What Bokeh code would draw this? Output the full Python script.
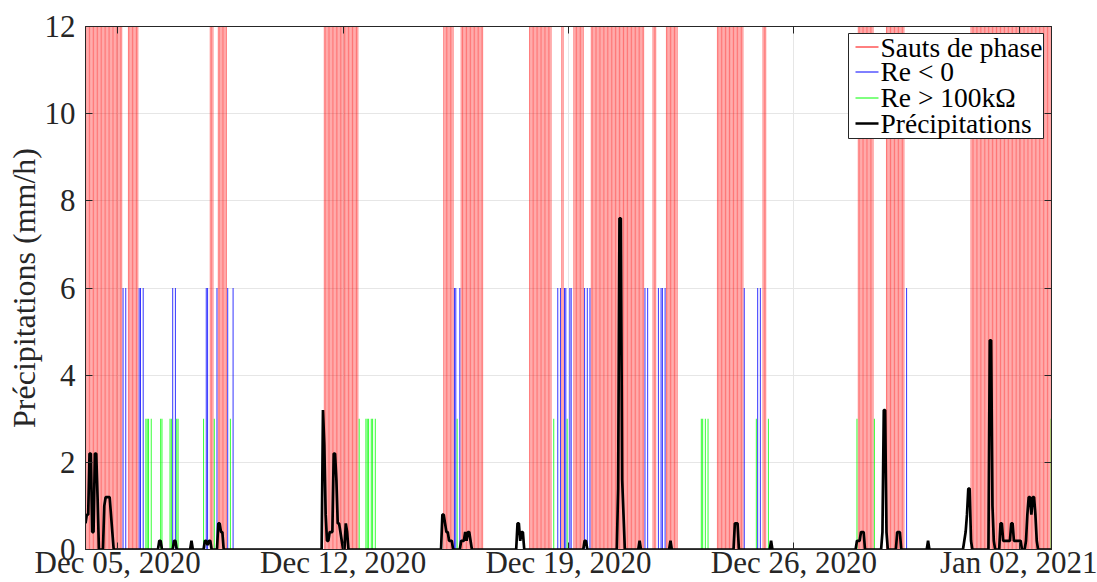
from datetime import datetime, timezone
from bokeh.plotting import figure
from bokeh.models import (Range1d, FixedTicker, DatetimeTickFormatter, LinearAxis,
                          DatetimeAxis, ColumnDataSource, BoxAnnotation, Label, Arrow)
from bokeh.embed import file_html
from bokeh.resources import INLINE

# ---------------- data (hours since 2020-12-04 00:00) ----------------
red_hours = [
    0, 1, 2, 3, 4, 5, 6, 7, 8, 9, 10, 11, 12, 13, 14, 15, 16, 17, 18, 19, 20, 21, 22, 23, 24, 25, 26, 27,
    32, 33, 34, 35, 36, 37, 38, 39,
    93, 94, 95,
    99, 100, 101, 102, 103, 104, 105,
    178, 179, 180, 181, 182, 183, 184, 185, 186, 187, 188, 189, 190, 191, 192, 193, 194, 195, 196,
    197, 198, 199, 200, 201, 202, 203,
    267, 268, 269, 270, 271, 272, 273, 274,
    280, 281, 282, 283, 284, 285, 286, 287, 288, 289, 290, 291, 292, 293, 294, 295, 296,
    331, 332, 333, 334, 335, 336, 337, 338, 339, 340, 341, 342, 343, 344, 345, 346, 347,
    355, 356,
    364, 365, 366, 367, 368, 369, 370, 371,
    377, 378, 379, 380, 381, 382, 383, 384, 385, 386, 387, 388, 389, 390, 391, 392, 393, 394, 395,
    396, 397, 398, 399, 400, 401, 402, 403, 404, 405, 406, 407, 408, 409, 410, 411, 412, 413, 414,
    415, 416,
    423, 424, 425,
    433, 434, 435, 436, 437, 438, 439, 440, 441,
    471, 472, 473, 474, 475, 476, 477, 478, 479, 480, 481, 482, 483, 484, 485, 486, 487, 488, 489, 490,
    505, 506, 507,
    576, 577, 578, 579, 580, 581, 582, 583, 584, 585, 586, 587,
    597, 598, 599, 600, 601, 602, 603, 604, 605, 606, 607, 608, 609, 610,
    660, 661, 662, 663, 664, 665, 666, 667, 668, 669, 670, 671, 672, 673, 674, 675, 676, 677, 678,
    679, 680, 681, 682, 683, 684, 685, 686, 687, 688, 689, 690, 691, 692, 693, 694, 695, 696, 697,
    698, 699, 700, 701, 702, 703, 704, 705, 706, 707, 708, 709, 710, 711, 712, 713, 714, 715, 716,
    717, 718, 719,
]
blue_hours = [28, 30, 40, 41, 43, 65, 67, 90, 91, 98, 106, 110, 275, 276, 279, 352, 354,
              357, 358, 361, 362, 372, 374, 376, 417, 419, 427, 429, 430, 432, 491, 501, 503, 612]
green_hours = [45, 46, 47, 49, 56, 57, 63, 64, 68, 69, 88, 96, 108, 204, 209, 210, 211, 213,
               214, 216, 277, 349, 359, 459, 460, 462, 464, 500, 509, 575, 588, 719.7]
red_level = 12
blue_level = 6
green_level = 3

precip_hours = [
    0, 1, 2, 3, 4, 5, 6, 7, 8, 9, 10,
    13, 14, 15, 16, 17, 18, 19, 20, 21,
    54, 55, 56, 57,
    65, 66, 67, 68,
    78, 79, 80,
    88, 89, 90, 91, 92, 93, 94,
    98, 99, 100, 101, 102, 103,
    176, 177, 178, 179, 180, 181, 182, 183, 184, 185, 186, 187, 188, 189, 190, 191, 192, 193, 194, 195, 196,
    265, 266, 267, 268, 269, 270, 271, 272, 273, 274,
    279, 280, 281, 282, 283, 284, 285, 286, 287, 288,
    321, 322, 323, 324, 325, 326, 327,
    371, 372, 373, 374,
    396, 397, 398, 399, 400, 401, 402,
    412, 413, 414,
    435, 436, 437,
    483, 484, 485, 486, 487,
    510, 511, 512,
    574, 575, 576, 577, 578, 579, 580, 581,
    593, 594, 595, 596, 597, 598,
    604, 605, 606, 607, 608,
    627, 628, 629,
    654, 655, 656, 657, 658, 659, 660, 661,
    673, 674, 675, 676, 677, 678,
    681, 682, 683, 684, 685, 686, 687, 688, 689, 690, 691, 692, 693, 694, 695, 696, 697, 698,
    700, 701, 702, 703, 704, 705, 706, 707, 708, 709, 710,
    720,
]
precip_values = [
    0.6, 0.8, 0.8, 2.2, 2.2, 0.4, 0.4, 2.2, 2.2, 1.2, 0.0,
    0.0, 1.0, 1.2, 1.2, 1.2, 1.2, 0.8, 0.4, 0.0,
    0.0, 0.2, 0.2, 0.0,
    0.0, 0.2, 0.2, 0.0,
    0.0, 0.2, 0.0,
    0.0, 0.2, 0.2, 0.1, 0.2, 0.2, 0.0,
    0.0, 0.6, 0.6, 0.4, 0.4, 0.0,
    0.0, 3.2, 2.4, 0.8, 0.2, 0.2, 0.4, 0.4, 0.4, 2.2, 2.2, 1.6, 0.6, 0.6, 0.4, 0.2, 0.0, 0.0, 0.6, 0.4, 0.0,
    0.0, 0.8, 0.8, 0.6, 0.4, 0.4, 0.2, 0.2, 0.2, 0.0,
    0.0, 0.2, 0.2, 0.2, 0.4, 0.2, 0.4, 0.4, 0.2, 0.0,
    0.0, 0.6, 0.6, 0.2, 0.4, 0.4, 0.0,
    0.0, 0.2, 0.2, 0.0,
    0.0, 1.4, 7.6, 7.6, 1.6, 0.8, 0.0,
    0.0, 0.2, 0.0,
    0.0, 0.2, 0.0,
    0.0, 0.6, 0.6, 0.6, 0.0,
    0.0, 0.2, 0.0,
    0.0, 0.2, 0.2, 0.2, 0.4, 0.4, 0.4, 0.0,
    0.0, 0.4, 3.2, 3.2, 0.4, 0.0,
    0.0, 0.4, 0.4, 0.4, 0.0,
    0.0, 0.2, 0.0,
    0.0, 0.2, 0.4, 0.8, 1.4, 1.4, 0.2, 0.0,
    0.0, 4.8, 4.8, 1.0, 0.2, 0.0,
    0.0, 0.6, 0.6, 0.2, 0.2, 0.2, 0.2, 0.2, 0.2, 0.6, 0.6, 0.2, 0.2, 0.2, 0.2, 0.2, 0.2, 0.0,
    0.0, 0.2, 0.8, 1.2, 1.2, 0.8, 1.2, 1.2, 0.8, 0.2, 0.0,
    0.0,
]
tick_dates = [datetime(2020, 12, 5), datetime(2020, 12, 12), datetime(2020, 12, 19),
              datetime(2020, 12, 26), datetime(2021, 1, 2)]
y_ticks = [0, 2, 4, 6, 8, 10, 12]
x_start = datetime(2020, 12, 4)
x_end = datetime(2021, 1, 3)
legend_labels = ["Sauts de phase", "Re < 0", "Re > 100kΩ", "Précipitations"]
legend_colors = ["#ff0000", "#0000ff", "#00ff00", "#000000"]

# ---------------- helpers ----------------
HOUR_MS = 3600 * 1000.0


def ms(d):
    return d.replace(tzinfo=timezone.utc).timestamp() * 1000.0


base = ms(x_start)


def hours_to_ms(hs):
    return [base + h * HOUR_MS for h in hs]


tick_ms = [ms(d) for d in tick_dates]

FONT = "Liberation Serif"
AX = "#262626"

p = figure(width=1097, height=582, x_axis_type="datetime", output_backend="svg",
           toolbar_location=None,
           x_range=Range1d(base, ms(x_end)), y_range=Range1d(0, 12),
           min_border_left=85, min_border_right=46, min_border_top=26, min_border_bottom=33)
p.background_fill_color = "white"
p.border_fill_color = "white"
p.outline_line_color = AX
p.outline_line_width = 1

src_r = ColumnDataSource(dict(x=hours_to_ms(red_hours), top=[red_level] * len(red_hours)))
src_b = ColumnDataSource(dict(x=hours_to_ms(blue_hours), top=[blue_level] * len(blue_hours)))
src_g = ColumnDataSource(dict(x=hours_to_ms(green_hours), top=[green_level] * len(green_hours)))

p.segment(x0="x", y0=0, x1="x", y1="top", source=src_r, line_color=legend_colors[0],
          line_width=0.55)
p.segment(x0="x", y0=0, x1="x", y1="top", source=src_b, line_color=legend_colors[1],
          line_width=0.8)
p.segment(x0="x", y0=0, x1="x", y1="top", source=src_g, line_color=legend_colors[2],
          line_width=0.8)
p.line(hours_to_ms(precip_hours), precip_values, line_color=legend_colors[3], line_width=2.7)

fmt = "%b %d, %Y"
xt = FixedTicker(ticks=tick_ms)
yt = FixedTicker(ticks=y_ticks)
p.xaxis.ticker = xt
p.xaxis.formatter = DatetimeTickFormatter(days=fmt, months=fmt, years=fmt, hours=fmt,
                                          hourmin=fmt, minutes=fmt, minsec=fmt,
                                          seconds=fmt, milliseconds=fmt, microseconds=fmt)
p.yaxis.ticker = yt
p.xgrid.ticker = xt
p.ygrid.ticker = yt
for g in (p.xgrid, p.ygrid):
    g.grid_line_color = "#e6e6e6"
    g.grid_line_width = 1

for ax in (p.xaxis, p.yaxis):
    ax.major_label_text_font = FONT
    ax.major_label_text_font_size = "31px"
    ax.major_label_text_color = AX
    ax.major_tick_in = 7
    ax.major_tick_out = 0
    ax.minor_tick_line_color = None
    ax.axis_line_color = AX
    ax.major_tick_line_color = AX
p.xaxis.major_label_standoff = -5
p.yaxis.major_label_standoff = 10
p.yaxis.axis_label = "Précipitations (mm/h)"
p.yaxis.axis_label_text_font = FONT
p.yaxis.axis_label_text_font_size = "32px"
p.yaxis.axis_label_text_font_style = "normal"
p.yaxis.axis_label_text_color = AX
p.yaxis.axis_label_standoff = 0

right = LinearAxis(ticker=yt, major_label_overrides={t: "" for t in y_ticks},
                   major_label_text_font_size="1px", major_label_standoff=0,
                   major_tick_in=7, major_tick_out=0, minor_tick_line_color=None,
                   axis_line_color=AX, major_tick_line_color=AX)
p.add_layout(right, "right")
top = DatetimeAxis(ticker=xt, major_label_overrides={t: "" for t in tick_ms},
                   major_label_text_font_size="1px", major_label_standoff=0,
                   major_tick_in=7, major_tick_out=0, minor_tick_line_color=None,
                   axis_line_color=AX, major_tick_line_color=AX)
p.add_layout(top, "above")

# ---------------- legend (screen units, relative to the plot frame) ----------------
box_left, box_right, box_top, box_bottom = 763, 958, 516, 411
row_y = [502.5, 477.5, 451.5, 426]
glyph_x0, glyph_x1, text_x = 770, 793, 795
p.add_layout(BoxAnnotation(left=box_left, right=box_right, top=box_top, bottom=box_bottom,
                           left_units="screen", right_units="screen",
                           top_units="screen", bottom_units="screen",
                           fill_color="white", fill_alpha=1.0,
                           line_color=AX, line_width=1, line_alpha=1.0))
glyph_widths = [1, 1, 1, 2.7]
for lab, col, w, yy in zip(legend_labels, legend_colors, glyph_widths, row_y):
    p.add_layout(Arrow(end=None, x_start=glyph_x0, y_start=yy, x_end=glyph_x1, y_end=yy,
                       start_units="screen", end_units="screen",
                       line_color=col, line_width=w))
    p.add_layout(Label(x=text_x, y=round(yy), x_units="screen", y_units="screen", text=lab,
                       text_font=FONT, text_font_size="27.5px", text_color="black",
                       text_baseline="middle", text_align="left"))

open("out.html", "w").write(file_html(p, INLINE))
